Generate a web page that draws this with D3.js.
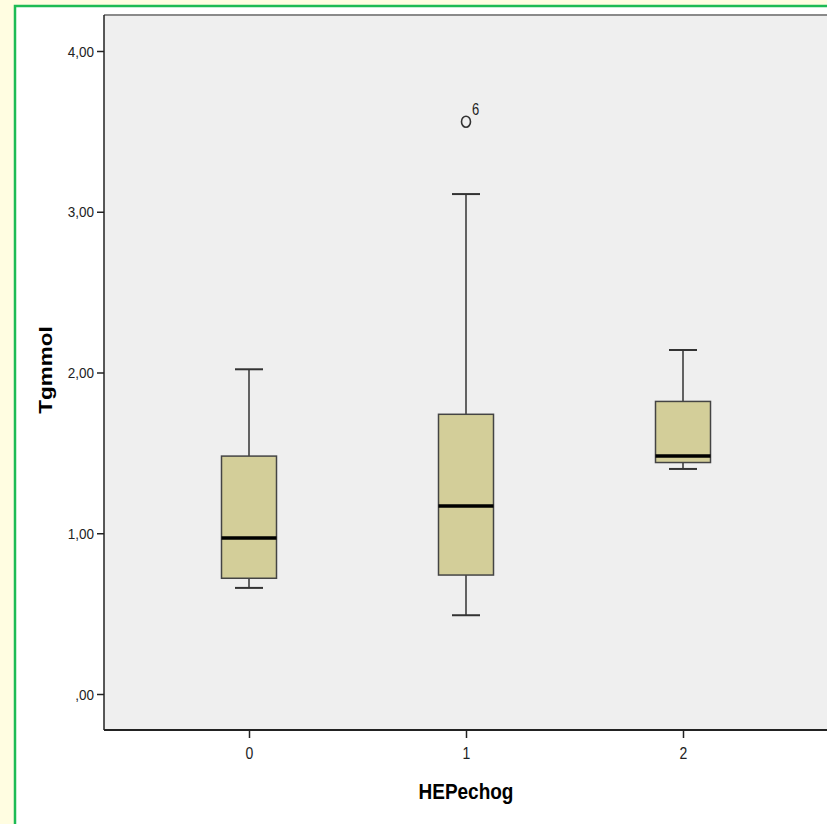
<!DOCTYPE html>
<html>
<head>
<meta charset="utf-8">
<script src="https://cdn.jsdelivr.net/npm/d3@7"></script>
<style>
  body { margin: 0; background: #fffde1; }
  svg { display: block; }
</style>
</head>
<body>
<svg id="chart" width="827" height="824"></svg>
<script>
// group categories on the x axis
const categories = ["0", "1", "2"];
// box statistics (Tgmmol)
const whiskerLow = [0.66, 0.49, 1.40];
const q1 = [0.72, 0.74, 1.44];
const medians = [0.97, 1.17, 1.48];
const q3 = [1.48, 1.74, 1.82];
const whiskerHigh = [2.02, 3.11, 2.14];
// outliers: group index, value, case label
const outliers = [{ group: 1, value: 3.56, label: "6" }];
const yTicks = [0, 1, 2, 3, 4];

const FONT = "Liberation Sans, Arial, sans-serif";
const svg = d3.select("#chart");

// white panel with green frame
svg.append("rect")
    .attr("x", 15).attr("y", 6)
    .attr("width", 830).attr("height", 830)
    .attr("fill", "white")
    .attr("stroke", "#1dbb55")
    .attr("stroke-width", 2.5);

const plot = { left: 104, top: 15, right: 828, bottom: 730 };

const x = d3.scalePoint()
    .domain(categories)
    .range([249, 683]);

const y = d3.scaleLinear()
    .domain([0, 4])
    .range([694, 51]);

// plot background
svg.append("rect")
    .attr("x", plot.left).attr("y", plot.top)
    .attr("width", plot.right - plot.left)
    .attr("height", plot.bottom - plot.top)
    .attr("fill", "#efefef");

// top frame line is grey
svg.append("line")
    .attr("x1", plot.left).attr("x2", plot.right)
    .attr("y1", plot.top).attr("y2", plot.top)
    .attr("stroke", "#8a8a8a").attr("stroke-width", 2);

// y axis
const yAxis = d3.axisLeft(y)
    .tickValues(yTicks)
    .tickSize(7)
    .tickFormat(d => d === 0 ? ",00" : d3.format(".2f")(d).replace(".", ","));

const gy = svg.append("g")
    .attr("transform", `translate(${plot.left},0)`)
    .call(yAxis);
gy.select(".domain").remove();
gy.selectAll(".tick line").attr("stroke", "#222").attr("stroke-width", 1.5);
gy.selectAll(".tick text")
    .attr("x", 0).attr("dy", null)
    .attr("transform", "translate(-10,5) scale(1,1.15)")
    .attr("fill", "#222")
    .style("font-family", FONT)
    .style("font-size", "13.5px");

svg.append("line")
    .attr("x1", plot.left).attr("x2", plot.left)
    .attr("y1", plot.top).attr("y2", plot.bottom)
    .attr("stroke", "#222").attr("stroke-width", 1.5);

// x axis
const xAxis = d3.axisBottom(x).tickSize(8);
const gx = svg.append("g")
    .attr("transform", `translate(0,${plot.bottom})`)
    .call(xAxis);
gx.select(".domain").remove();
gx.selectAll(".tick line").attr("stroke", "#222").attr("stroke-width", 1.5);
gx.selectAll(".tick text")
    .attr("y", 0).attr("dy", null)
    .attr("transform", "translate(0,29) scale(1,1.2)")
    .attr("fill", "#222")
    .style("font-family", FONT)
    .style("font-size", "14px");

svg.append("line")
    .attr("x1", plot.left).attr("x2", plot.right)
    .attr("y1", plot.bottom).attr("y2", plot.bottom)
    .attr("stroke", "#222").attr("stroke-width", 2);

// axis titles
svg.append("text")
    .attr("transform", `translate(${(plot.left + plot.right) / 2},799) scale(1,1.2)`)
    .attr("text-anchor", "middle")
    .style("font-family", FONT)
    .style("font-size", "19px")
    .style("font-weight", "bold")
    .text("HEPechog");

svg.append("text")
    .attr("transform", "translate(52,370) rotate(-90) scale(1.25,1)")
    .attr("text-anchor", "middle")
    .style("font-family", FONT)
    .style("font-size", "18px")
    .style("font-weight", "bold")
    .text("Tgmmol");

// boxes
const boxW = 55, capW = 28;
const boxes = categories.map((c, i) => ({
    cat: c, lo: whiskerLow[i], q1: q1[i], med: medians[i], q3: q3[i], hi: whiskerHigh[i]
}));

const g = svg.append("g").selectAll("g")
    .data(boxes)
    .enter().append("g");

g.append("line")
    .attr("x1", d => x(d.cat)).attr("x2", d => x(d.cat))
    .attr("y1", d => y(d.hi)).attr("y2", d => y(d.q3))
    .attr("stroke", "#333").attr("stroke-width", 1.5);

g.append("line")
    .attr("x1", d => x(d.cat)).attr("x2", d => x(d.cat))
    .attr("y1", d => y(d.q1)).attr("y2", d => y(d.lo))
    .attr("stroke", "#333").attr("stroke-width", 1.5);

g.append("line")
    .attr("x1", d => x(d.cat) - capW / 2).attr("x2", d => x(d.cat) + capW / 2)
    .attr("y1", d => y(d.hi)).attr("y2", d => y(d.hi))
    .attr("stroke", "#333").attr("stroke-width", 2);

g.append("line")
    .attr("x1", d => x(d.cat) - capW / 2).attr("x2", d => x(d.cat) + capW / 2)
    .attr("y1", d => y(d.lo)).attr("y2", d => y(d.lo))
    .attr("stroke", "#333").attr("stroke-width", 2);

g.append("rect")
    .attr("x", d => x(d.cat) - boxW / 2)
    .attr("width", boxW)
    .attr("y", d => y(d.q3))
    .attr("height", d => y(d.q1) - y(d.q3))
    .attr("fill", "#d3ce99")
    .attr("stroke", "#444")
    .attr("stroke-width", 1.5);

g.append("line")
    .attr("x1", d => x(d.cat) - boxW / 2).attr("x2", d => x(d.cat) + boxW / 2)
    .attr("y1", d => y(d.med)).attr("y2", d => y(d.med))
    .attr("stroke", "#000").attr("stroke-width", 3.5);

// outliers
const og = svg.append("g").selectAll("g")
    .data(outliers)
    .enter().append("g");

og.append("ellipse")
    .attr("cx", d => x(categories[d.group]))
    .attr("cy", d => y(d.value))
    .attr("rx", 4.5)
    .attr("ry", 5.5)
    .attr("fill", "none")
    .attr("stroke", "#333")
    .attr("stroke-width", 1.6);

og.append("text")
    .attr("transform", d => `translate(${x(categories[d.group]) + 6},${y(d.value) - 7}) scale(1,1.2)`)
    .style("font-family", FONT)
    .style("font-size", "13px")
    .attr("fill", "#222")
    .text(d => d.label);
</script>
</body>
</html>
